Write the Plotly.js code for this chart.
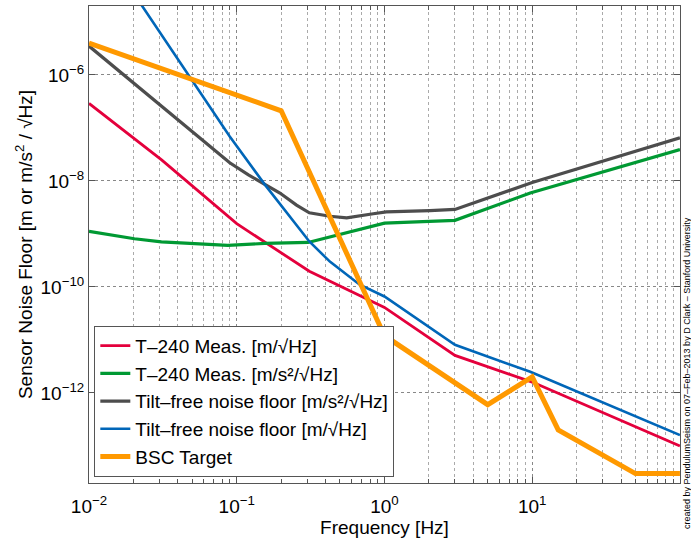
<!DOCTYPE html>
<html>
<head>
<meta charset="utf-8">
<script src="https://cdn.plot.ly/plotly-3.0.1.min.js"></script>
<style>html,body{margin:0;padding:0;background:#fff;}#chart{width:691px;height:538px;}</style>
</head>
<body>
<div id="chart"></div>
<script>
// T-240 Meas. [m/√Hz]
const redFreq = [0.01, 0.031, 0.1, 0.31, 1, 3, 10, 100];
const redVal  = [2.9e-7, 2.5e-8, 1.56e-9, 1.97e-10, 4.1e-11, 5.1e-12, 1.6e-12, 1.0e-13];

// T-240 Meas. [m/s²/√Hz]
const greenFreq = [0.01, 0.0203, 0.0309, 0.052, 0.087, 0.155, 0.304, 1, 3, 9.7, 100];
const greenVal  = [1.12e-9, 8.1e-10, 7.1e-10, 6.6e-10, 6.1e-10, 6.6e-10, 6.9e-10, 1.6e-9, 1.8e-9, 5.9e-9, 3.9e-8];

// Tilt-free noise floor [m/s²/√Hz]
const grayFreq = [0.01, 0.0317, 0.0897, 0.12, 0.155, 0.196, 0.254, 0.31, 0.427, 0.555, 0.84, 1.03, 2.03, 3, 10, 100];
const grayVal  = [3.5e-6, 2.4e-7, 2.2e-8, 1.3e-8, 8.5e-9, 5.9e-9, 3.5e-9, 2.5e-9, 2.15e-9, 2.0e-9, 2.4e-9, 2.6e-9, 2.75e-9, 2.9e-9, 9.3e-9, 6.5e-8];

// Tilt-free noise floor [m/√Hz]
const blueFreq = [0.02, 0.0897, 0.155, 0.31, 0.427, 0.68, 1, 3, 9.7, 100];
const blueVal  = [3.5e-5, 6.9e-8, 8.5e-9, 7.2e-10, 3.0e-10, 1.1e-10, 6.6e-11, 8.1e-12, 2.5e-12, 1.6e-13];

// BSC Target
const bscFreq = [0.01, 0.2, 1, 5, 10, 15, 50, 100];
const bscVal  = [4e-6, 2.1e-7, 1.2e-11, 6e-13, 2e-12, 2e-13, 3e-14, 3e-14];

const names = [
  'T–240 Meas. [m/√Hz]',
  'T–240 Meas. [m/s²/√Hz]',
  'Tilt–free noise floor [m/s²/√Hz]',
  'Tilt–free noise floor [m/√Hz]',
  'BSC Target'
];

// axis tick labels
const xTickVals = [0.01, 0.1, 1, 10, 100];
const xTickText = ['10<sup>−2</sup>', '10<sup>−1</sup>', '10<sup>0</sup>', '10<sup>1</sup>', '10<sup>2</sup>'];
const yTickVals = [1e-12, 1e-10, 1e-8, 1e-6];
const yTickText = ['10<sup>−12</sup>', '10<sup>−10</sup>', '10<sup>−8</sup>', '10<sup>−6</sup>'];
// minor log gridlines 2..9 within each decade
const xMinorVals = [];
[0.01, 0.1, 1, 10].forEach(d => { for (let k = 2; k <= 9; k++) xMinorVals.push(k * d); });

const FONT = '"Liberation Sans", Arial, Helvetica, sans-serif';

const traces = [
  {x: redFreq, y: redVal, name: names[0], line: {color: '#e4003c', width: 2.8}},
  {x: greenFreq, y: greenVal, name: names[1], line: {color: '#009933', width: 3.2}},
  {x: grayFreq, y: grayVal, name: names[2], line: {color: '#4d4d4d', width: 3.2}},
  {x: blueFreq, y: blueVal, name: names[3], line: {color: '#0066b8', width: 2.6}},
  {x: bscFreq, y: bscVal, name: names[4], line: {color: '#ff9900', width: 5}}
].map(t => Object.assign({type: 'scatter', mode: 'lines'}, t));

const layout = {
  width: 691, height: 538,
  margin: {l: 89, r: 11, t: 6, b: 55},
  paper_bgcolor: '#fff', plot_bgcolor: '#fff',
  font: {family: FONT, size: 19, color: '#000'},
  showlegend: true,
  legend: {
    x: 0.009, y: 0.013, xanchor: 'left', yanchor: 'bottom',
    bgcolor: '#fff', bordercolor: '#555', borderwidth: 1,
    font: {family: FONT, size: 19, color: '#000'},
    tracegroupgap: 0
  },
  xaxis: {
    type: 'log', range: [-2, 2.0005],
    tickmode: 'array', tickvals: xTickVals, ticktext: xTickText,
    showline: true, linecolor: '#555', linewidth: 1, mirror: 'ticks',
    ticks: 'inside', ticklen: 6, tickcolor: '#555', ticklabelstandoff: 6,
    showgrid: true, gridcolor: '#888', griddash: 'dot', gridwidth: 1,
    minor: {tickmode: 'array', tickvals: xMinorVals, ticks: 'inside', ticklen: 4, tickcolor: '#555', showgrid: true, gridcolor: '#aaa', griddash: 'dot', gridwidth: 1},
    zeroline: false,
    tickfont: {family: FONT, size: 19},
    title: {text: 'Frequency [Hz]', font: {family: FONT, size: 19}, standoff: 0}
  },
  yaxis: {
    type: 'log', range: [-13.7, -4.7],
    tickmode: 'array', tickvals: yTickVals, ticktext: yTickText,
    showline: true, linecolor: '#555', linewidth: 1, mirror: 'ticks',
    ticks: 'inside', ticklen: 6, tickcolor: '#555',
    showgrid: true, gridcolor: '#888', griddash: 'dot', gridwidth: 1,
    zeroline: false,
    tickfont: {family: FONT, size: 19},
    title: {text: 'Sensor Noise Floor [m or m/s<sup>2</sup> / √Hz]', font: {family: FONT, size: 19}, standoff: 2}
  },
  annotations: [{
    text: 'created by PendulumSeism on 07–Feb–2013 by D Clark – Stanford University',
    xref: 'paper', yref: 'paper', x: 1.0, y: 0.0, xanchor: 'left', yanchor: 'bottom',
    xshift: 0, yshift: -48,
    textangle: -90, showarrow: false,
    font: {family: FONT, size: 9, color: '#000'}
  }]
};

Plotly.newPlot('chart', traces, layout, {displayModeBar: false, staticPlot: true});
</script>
</body>
</html>
